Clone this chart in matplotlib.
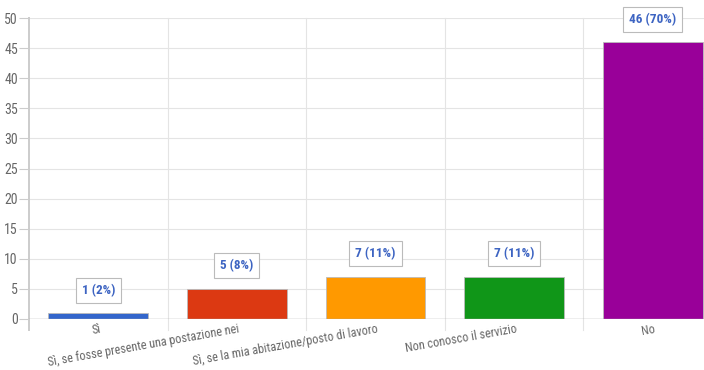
import matplotlib
matplotlib.use("Agg")
import matplotlib.pyplot as plt
from matplotlib import font_manager

categories = ["Sì", "Sì, se fosse presente una postazione nei",
              "Sì, se la mia abitazione/posto di lavoro",
              "Non conosco il servizio", "No"]
values = [1, 5, 7, 7, 46]
percents = [2, 8, 11, 11, 70]
colors = ["#3366cc", "#dc3912", "#ff9900", "#109618", "#990099"]
yticks = [0, 5, 10, 15, 20, 25, 30, 35, 40, 45, 50]

names = {f.name for f in font_manager.fontManager.ttflist}
fam = [n for n in ["Roboto Condensed", "Liberation Sans Narrow", "Archivo Narrow",
                   "Asap Condensed", "Roboto"] if n in names][:1]
plt.rcParams['font.family'] = fam + ["DejaVu Sans"]

fig = plt.figure(figsize=(7.04, 3.70), dpi=100)
ax = fig.add_axes([29/704, 1-319/370, 693/704, 301/370])
x = list(range(len(categories)))
ax.bar(x, values, width=0.72, color=colors, edgecolor="#bbbbbb", linewidth=0.6, zorder=3)
ax.set_xlim(-0.5, 4.5)
ax.set_ylim(0, 50)
ax.set_yticks(yticks)
ax.set_yticklabels([str(t) for t in yticks], fontsize=10, color="#666666")
ax.tick_params(axis='y', length=7, color="#cccccc", pad=1)
ax.tick_params(axis='x', length=0)
ax.set_xticks(x)
ax.set_xticklabels([])
for s in ax.spines.values():
    s.set_visible(False)
for t in yticks[1:]:
    ax.axhline(t, color="#e4e4e4", linewidth=0.8, zorder=1)
ax.axhline(0, color="#aaaaaa", linewidth=1.0, zorder=4)
# vertical lines at category boundaries
for i, b in enumerate([-0.5, 0.5, 1.5, 2.5, 3.5]):
    ax.plot([b, b], [-1.8, 50], color="#cccccc" if i == 0 else "#e4e4e4",
            linewidth=1.4 if i == 0 else 0.8, clip_on=False, zorder=1)

for xi, lab in zip(x, categories):
    ax.text(xi + 0.01, -0.6, lab, rotation=10, ha='right', va='top', rotation_mode='anchor',
            fontsize=8.8, color="#666666")

for xi, v, p in zip(x, values, percents):
    ax.annotate(f"{v} ({p}%)", (xi, v), xytext=(0, 16.5), textcoords='offset points',
                ha='center', va='center', fontsize=9.5, fontweight='bold', color="#3d64c2",
                bbox=dict(boxstyle='square,pad=0.45', fc='white', ec='#bbbbbb', lw=0.8),
                zorder=5)

fig.savefig("out.png", dpi=100)
